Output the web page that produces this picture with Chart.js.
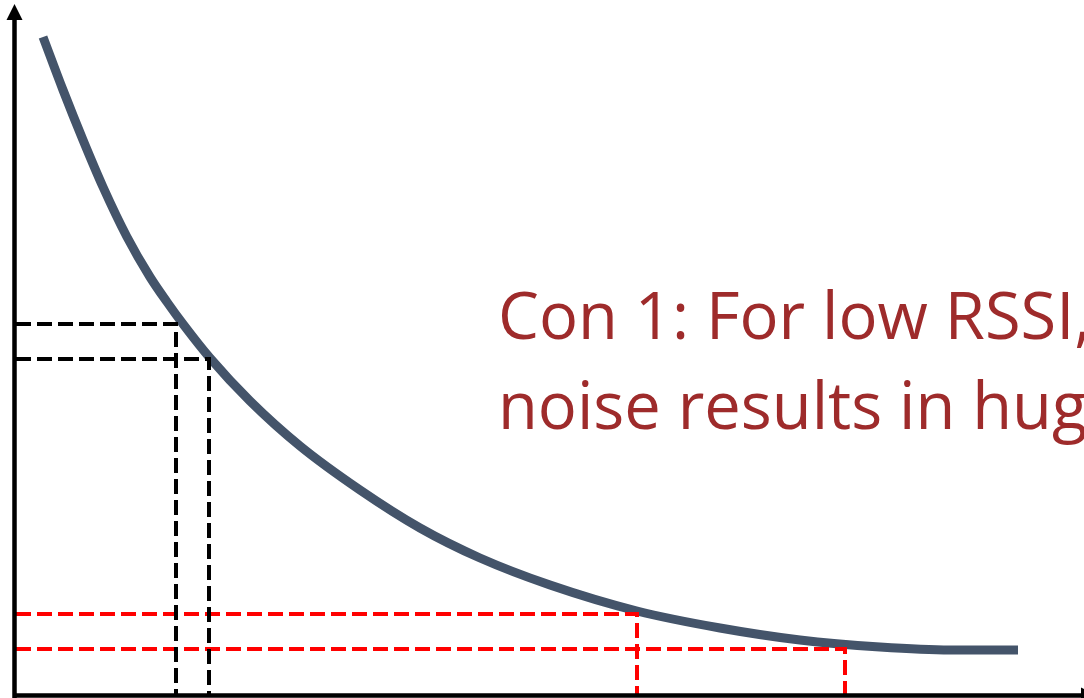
<!DOCTYPE html>
<html>
<head>
<meta charset="utf-8">
<script src="https://cdn.jsdelivr.net/npm/chart.js@4.4.1/dist/chart.umd.min.js"></script>
<style>
  html, body { margin: 0; padding: 0; background: #fff; overflow: hidden; }
  #wrap { position: relative; width: 1084px; height: 698px; overflow: hidden; }
  #note {
    position: absolute; left: 498px; top: 269px;
    font-family: "Open Sans", sans-serif; font-size: 65px; line-height: 90px;
    color: #9e2b2b; white-space: nowrap;
  }
</style>
</head>
<body>
<div id="wrap">
  <canvas id="chartCurve" width="1084" height="698"></canvas>
  <div id="note">Con 1: For low RSSI,<br>noise results in hug</div>
</div>
<script>
"use strict";

/* curva (unidades arbitrarias: x hacia la derecha, y hacia arriba) */
var curveX = [29, 49, 69, 89, 113, 136, 153, 169, 196, 236, 286, 346, 406, 466, 536, 623, 706, 786, 866, 936, 1004];
var curveY = [658, 605, 555, 508, 458, 418, 393, 371, 337, 294, 249, 205, 167, 137, 110, 84, 67, 55, 48, 45, 45];

/* líneas guía: [x de la vertical, y de la horizontal] */
var guideBlack = [[162, 371], [195, 336]];
var guideRed   = [[623, 81], [831, 46]];

var X_MAX = 1070, Y_MAX = 695;

function guide(g, color) {
  return {
    data: [{ x: 2, y: g[1] }, { x: g[0], y: g[1] }, { x: g[0], y: 0 }],
    borderColor: color, borderWidth: 4, borderDash: [15, 6],
    pointRadius: 0, fill: false, tension: 0, borderCapStyle: 'butt'
  };
}

var datasets = [];
guideBlack.forEach(function(g) { datasets.push(guide(g, '#000000')); });
guideRed.forEach(function(g) { datasets.push(guide(g, '#ff0000')); });
datasets.push({
  data: curveX.map(function(x, i) { return { x: x, y: curveY[i] }; }),
  borderColor: '#44546a', borderWidth: 9, pointRadius: 0,
  cubicInterpolationMode: 'monotone', fill: false, borderCapStyle: 'butt'
});

/* ejes con flechas, dibujados sobre las escalas */
var axesPlugin = {
  id: 'axesArrows',
  afterDatasetsDraw: function(chart) {
    var ctx = chart.ctx, xs = chart.scales.x, ys = chart.scales.y;
    var x0 = xs.getPixelForValue(0) + 0.5, y0 = ys.getPixelForValue(0) + 0.5;
    var xe = xs.getPixelForValue(X_MAX) - 3;
    ctx.save();
    ctx.strokeStyle = '#000'; ctx.fillStyle = '#000'; ctx.lineWidth = 4.5;
    ctx.beginPath();
    ctx.moveTo(x0, y0 + 3); ctx.lineTo(x0, 18);
    ctx.moveTo(x0 - 2, y0); ctx.lineTo(xe, y0);
    ctx.stroke();
    ctx.beginPath();
    ctx.moveTo(x0, 4); ctx.lineTo(x0 - 8, 20); ctx.lineTo(x0 + 8, 20); ctx.closePath();
    ctx.fill();
    ctx.beginPath();
    ctx.moveTo(xe + 16, y0); ctx.lineTo(xe, y0 - 8); ctx.lineTo(xe, y0 + 8); ctx.closePath();
    ctx.fill();
    ctx.restore();
  }
};

new Chart(document.getElementById('chartCurve'), {
  type: 'line',
  data: { datasets: datasets },
  options: {
    responsive: false,
    animation: false,
    layout: { padding: { left: 14, right: 0, top: 0, bottom: 3 } },
    plugins: { legend: { display: false }, tooltip: { enabled: false } },
    scales: {
      x: { type: 'linear', min: 0, max: X_MAX, display: false },
      y: { type: 'linear', min: 0, max: Y_MAX, display: false }
    }
  },
  plugins: [axesPlugin]
});
</script>
</body>
</html>
